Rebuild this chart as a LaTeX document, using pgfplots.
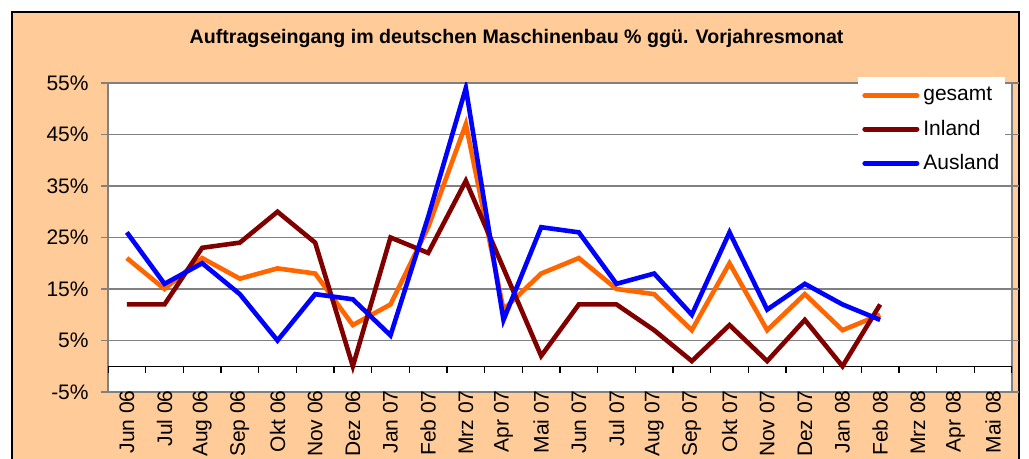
\documentclass[border=0pt]{standalone}
\usepackage{fontspec}
\setmainfont{Liberation Sans}
\usepackage{pgfplots}
\pgfplotsset{compat=1.18}
\definecolor{peach}{HTML}{FFCC99}
\definecolor{cges}{HTML}{FF6600}
\definecolor{cin}{HTML}{800000}
\definecolor{caus}{HTML}{0000FF}
\definecolor{gridgray}{HTML}{808080}
\begin{document}
\begin{tikzpicture}
\useasboundingbox (0,0) rectangle (514.5pt,229.5pt);
\fill[white] (0,0) rectangle (514.5pt,229.5pt);
\filldraw[fill=peach, draw=black, line width=0.6pt] (6pt,-5pt) rectangle (509.5pt,223.5pt);
\node[font=\bfseries\fontsize{9.8}{11}\selectfont] at (258.3pt,210.5pt) {Auftragseingang im deutschen Maschinenbau \% ggü. Vorjahresmonat};
\begin{axis}[
  at={(54pt,33.5pt)}, anchor=south west,
  scale only axis, width=452pt, height=154.5pt,
  xmin=-0.5, xmax=23.5, ymin=-5, ymax=55,
  axis background/.style={fill=white},
  axis line style={gridgray, line width=1pt},
  xtick={0,...,23},
  xticklabels={Jun 06,Jul 06,Aug 06,Sep 06,Okt 06,Nov 06,Dez 06,Jan 07,Feb 07,Mrz 07,Apr 07,Mai 07,Jun 07,Jul 07,Aug 07,Sep 07,Okt 07,Nov 07,Dez 07,Jan 08,Feb 08,Mrz 08,Apr 08,Mai 08},
  major x tick style={draw=none},
  xticklabel style={yshift=4.5pt, rotate=90, anchor=east, inner sep=0pt},
  ytick={-5,5,15,25,35,45,55},
  yticklabels={-5\%,5\%,15\%,25\%,35\%,45\%,55\%},
  yticklabel style={anchor=east, inner sep=0pt, xshift=-6pt},
  tick align=outside,
  major tick length=3.5pt,
  major y tick style={gridgray, line width=0.8pt},
  ymajorgrids, grid style={gridgray, line width=0.8pt},
  tick label style={font=\fontsize{10.5}{12}\selectfont},
  legend style={at={(0.8296,1.0194)}, anchor=north west, draw=none, fill=white,
    font=\fontsize{10.5}{12}\selectfont, inner xsep=2pt, inner ysep=3pt, row sep=4pt,
    text width=37pt},
  legend cell align=left,
  legend image code/.code={\draw[#1, line width=2.5pt, line cap=round] (0pt,0pt) -- (26pt,0pt);},
]
\draw[black, line width=0.6pt] (axis cs:-0.5,0) -- (axis cs:23.5,0);
\pgfplotsinvokeforeach{-0.5,0.5,...,23.5}{
  \draw[black, line width=0.6pt] (axis cs:#1,0) -- ([yshift=-3.5pt]axis cs:#1,0);
}
\addplot[cges, line width=2.3pt, mark=none] coordinates {
(0,21)(1,15)(2,21)(3,17)(4,19)(5,18)(6,8)(7,12)(8,27)(9,47)(10,11)(11,18)(12,21)(13,15)(14,14)(15,7)(16,20)(17,7)(18,14)(19,7)(20,10)};
\addlegendentry{gesamt}
\addplot[cin, line width=2.3pt, mark=none] coordinates {
(0,12)(1,12)(2,23)(3,24)(4,30)(5,24)(6,0)(7,25)(8,22)(9,36)(10,19)(11,2)(12,12)(13,12)(14,7)(15,1)(16,8)(17,1)(18,9)(19,0)(20,12)};
\addlegendentry{Inland}
\addplot[caus, line width=2.3pt, mark=none] coordinates {
(0,26)(1,16)(2,20)(3,14)(4,5)(5,14)(6,13)(7,6)(8,29)(9,54)(10,9)(11,27)(12,26)(13,16)(14,18)(15,10)(16,26)(17,11)(18,16)(19,12)(20,9)};
\addlegendentry{Ausland}
\end{axis}
\end{tikzpicture}
\end{document}
